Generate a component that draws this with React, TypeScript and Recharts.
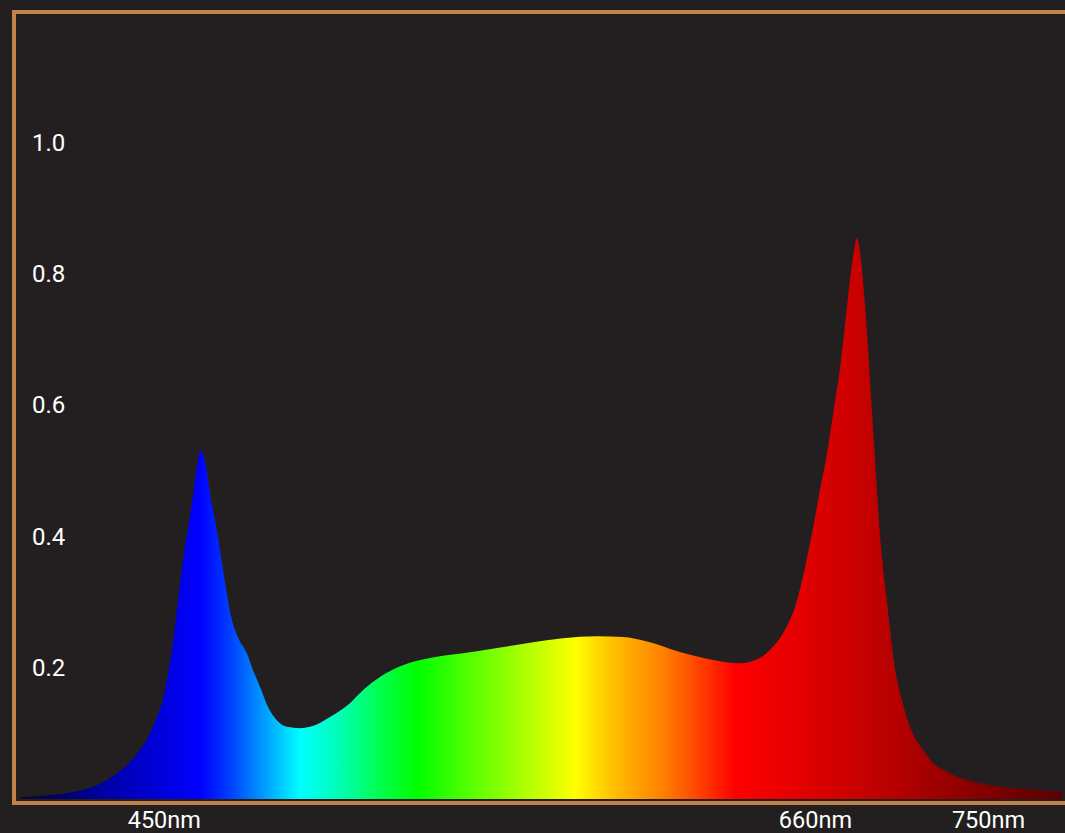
import React from 'react';
import { AreaChart, Area, XAxis, YAxis } from 'recharts';

// Wavelength (nm) sample positions
const wavelengths = [
  392.1, 401.7, 408.1, 414.5, 419.9, 425.7, 430.5, 433.7, 435.9, 437.8,
  439.8, 441.4, 442.6, 444.2, 445.8, 447.4, 448.7, 450.0, 451.0, 451.9,
  452.9, 454.5, 456.4, 457.7, 459.9, 461.8, 464.7, 466.6, 468.9, 471.4,
  474.3, 477.5, 481.7, 484.9, 488.1, 491.3, 497.7, 501.9, 507.3, 512.7,
  517.9, 523.3, 533.9, 544.8, 555.3, 565.9, 576.8, 585.1, 592.8, 603.3,
  613.9, 622.5, 628.9, 632.1, 636.3, 640.8, 643.3, 645.6, 648.1, 650.4,
  652.6, 654.5, 656.1, 657.7, 659.0, 660.0, 660.9, 661.9, 663.2, 664.1,
  665.1, 666.1, 667.3, 669.6, 672.1, 674.4, 676.9, 679.2, 681.8,
  684.3, 688.2, 692.0, 702.6, 714.4, 725.6,
];

// Relative intensity at each wavelength
const intensity = [
  0.003, 0.006, 0.01, 0.017, 0.029, 0.049, 0.075, 0.1, 0.125, 0.151,
  0.2, 0.25, 0.3, 0.36, 0.41, 0.46, 0.505, 0.532, 0.52, 0.5,
  0.465, 0.425, 0.37, 0.33, 0.273, 0.247, 0.222, 0.197, 0.171, 0.141,
  0.12, 0.11, 0.108, 0.11, 0.116, 0.125, 0.146, 0.166, 0.186, 0.2,
  0.209, 0.215, 0.222, 0.23, 0.238, 0.245, 0.248, 0.247, 0.24, 0.224,
  0.212, 0.207, 0.215, 0.227, 0.2525, 0.303, 0.352, 0.405, 0.47, 0.527,
  0.595, 0.654, 0.72, 0.79, 0.835, 0.855, 0.835, 0.79, 0.71, 0.64,
  0.565, 0.49, 0.405, 0.3, 0.2, 0.15, 0.11, 0.088, 0.07,
  0.055, 0.043, 0.034, 0.021, 0.015, 0.011,
];

const yTicks = [0.2, 0.4, 0.6, 0.8, 1.0];
// where the reference places its wavelength labels (right-aligned)
const xTickValues = [450, 658.4, 713.8];
const xTickLabels = ['450nm', '660nm', '750nm'];

const gradientStops: [number, string][] = [
  [0, '#0c0a2a'],
  [0.038, '#00006a'],
  [0.077, '#0000a0'],
  [0.125, '#0000d2'],
  [0.173, '#0000ff'],
  [0.202, '#0040ff'],
  [0.23, '#0090ff'],
  [0.269, '#00ffff'],
  [0.307, '#00ffb4'],
  [0.345, '#00ff50'],
  [0.381, '#00ff00'],
  [0.458, '#80ff00'],
  [0.533, '#ffff00'],
  [0.569, '#ffc000'],
  [0.617, '#ff8000'],
  [0.65, '#ff4500'],
  [0.686, '#ff0000'],
  [0.739, '#e80000'],
  [0.797, '#cc0000'],
  [0.845, '#b40000'],
  [0.893, '#960000'],
  [0.94, '#7a0000'],
  [1, '#5a0000'],
];

const data = wavelengths.map((w, i) => ({ nm: w, v: intensity[i] }));

const FONT = 'Roboto, "Noto Sans", sans-serif';

const YTick = (props: any) => {
  const { y, payload } = props;
  return (
    <text x={32} y={y} fill="#ffffff" fontSize={24} fontFamily={FONT} textAnchor="start" dominantBaseline="central">
      {Number(payload.value).toFixed(1)}
    </text>
  );
};

const XTick = (props: any) => {
  const { x, payload, index } = props;
  const i = xTickValues.indexOf(payload.value);
  const label = xTickLabels[i >= 0 ? i : index];
  return (
    <text x={x} y={820} fill="#ffffff" fontSize={23.5} fontFamily={FONT} textAnchor="end" dominantBaseline="central">
      {label}
    </text>
  );
};

export default function App() {
  return (
    <div
      style={{
        position: 'fixed',
        left: 0,
        top: 0,
        width: 1065,
        height: 833,
        background: '#231f20',
        overflow: 'hidden',
      }}
    >
      <div
        style={{
          position: 'absolute',
          left: 12,
          top: 10,
          width: 1120,
          height: 795,
          border: '4px solid #c1834a',
          boxSizing: 'border-box',
        }}
      />
      <div style={{ position: 'absolute', left: 0, top: 0 }}>
        <AreaChart width={1065} height={833} data={data} margin={{ top: 11.5, right: 3, bottom: 0, left: 20 }}>
          <defs>
            <linearGradient id="spectrum" x1="0" y1="0" x2="1" y2="0">
              {gradientStops.map(([o, c]) => (
                <stop key={o} offset={o} stopColor={c} />
              ))}
            </linearGradient>
          </defs>
          <XAxis
            dataKey="nm"
            type="number"
            domain={['dataMin', 'dataMax']}
            ticks={xTickValues}
            tick={<XTick />}
            axisLine={false}
            tickLine={false}
            height={34}
            interval={0}
          />
          <YAxis
            type="number"
            domain={[0, 1.2]}
            ticks={yTicks}
            tick={<YTick />}
            axisLine={false}
            tickLine={false}
            mirror
            width={1}
            interval={0}
          />
          <Area
            type="monotone"
            dataKey="v"
            stroke="none"
            fill="url(#spectrum)"
            fillOpacity={1}
            isAnimationActive={false}
            dot={false}
            activeDot={false}
          />
        </AreaChart>
      </div>
    </div>
  );
}
